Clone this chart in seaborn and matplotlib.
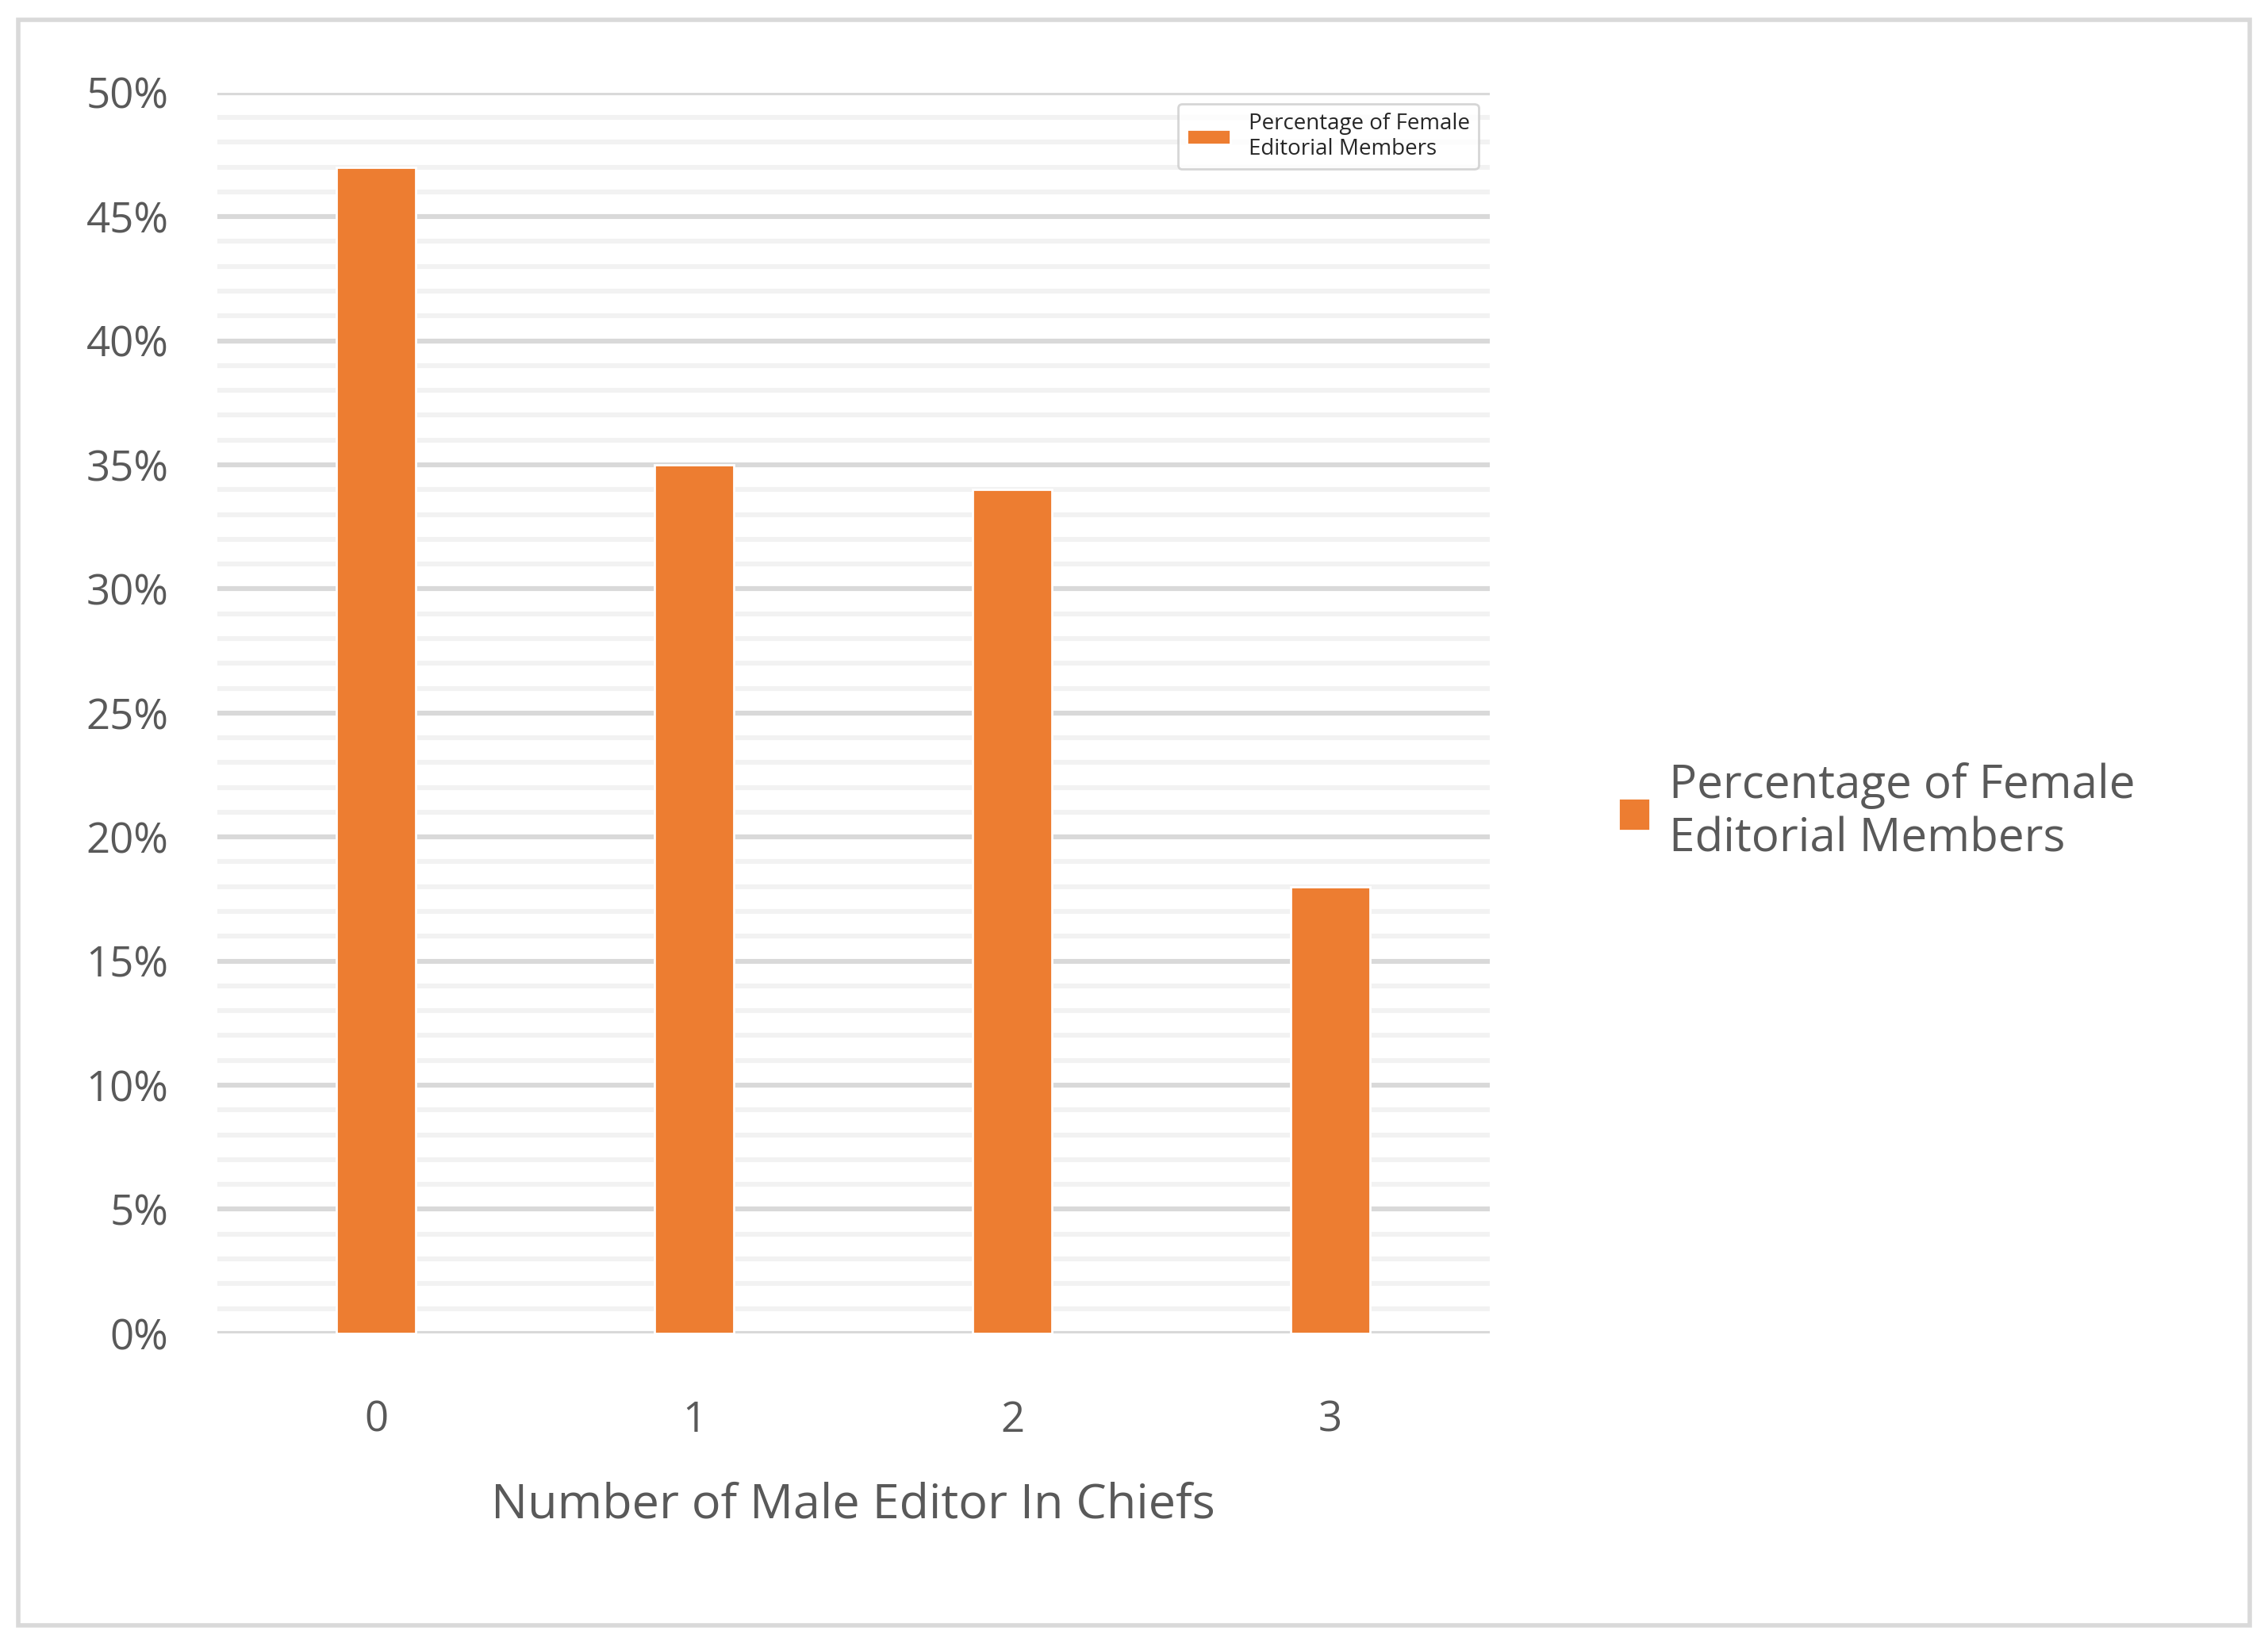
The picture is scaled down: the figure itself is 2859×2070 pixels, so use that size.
import matplotlib.pyplot as plt
import seaborn as sns
import pandas as pd
from matplotlib.patches import Rectangle
from matplotlib.ticker import MultipleLocator, PercentFormatter

male_editors = ["0", "1", "2", "3"]
female_share = [47, 35, 34, 18]
series_name = "Percentage of Female\nEditorial Members"

sns.set_style("white")
plt.rcParams["font.family"] = ["Open Sans", "DejaVu Sans"]
text_col = "#595959"

df = pd.DataFrame({"editors": male_editors, "share": female_share})

fig = plt.figure(figsize=(14.295, 10.35), dpi=200)
ax = fig.add_axes([0.0957, 0.188, 0.561, 0.7556])

sns.barplot(data=df, x="editors", y="share", color="#ED7D31", width=0.25,
            saturation=1, label=series_name, ax=ax, zorder=3)

ax.set_ylim(0, 50)
ax.set_xlim(-0.5, 3.5)
ax.yaxis.set_major_locator(MultipleLocator(5))
ax.yaxis.set_minor_locator(MultipleLocator(1))
ax.yaxis.set_major_formatter(PercentFormatter(decimals=0))
ax.grid(axis="y", which="major", color="#D9D9D9", linewidth=2.2, zorder=0)
ax.grid(axis="y", which="minor", color="#F2F2F2", linewidth=2.2, zorder=0)
ax.set_axisbelow(True)
for s in ax.spines.values():
    s.set_visible(False)
ax.tick_params(axis="both", which="both", length=0, labelsize=19, colors=text_col)
ax.tick_params(axis="y", pad=22)
ax.tick_params(axis="x", pad=30)
ax.set_ylabel("")
ax.set_xlabel("Number of Male Editor In Chiefs", fontsize=22, color=text_col, labelpad=18)

handles, labels = ax.get_legend_handles_labels()
fig.legend(handles, labels, loc="center left", bbox_to_anchor=(0.695, 0.505),
           frameon=False, fontsize=21, labelcolor=text_col,
           handlelength=0.7, handleheight=0.7, handletextpad=0.4)

fig.patches.append(Rectangle((0.008, 0.01), 0.984, 0.978, transform=fig.transFigure,
                             fill=False, edgecolor="#D9D9D9", linewidth=2))

fig.savefig("out.png", dpi=200, facecolor="white")
